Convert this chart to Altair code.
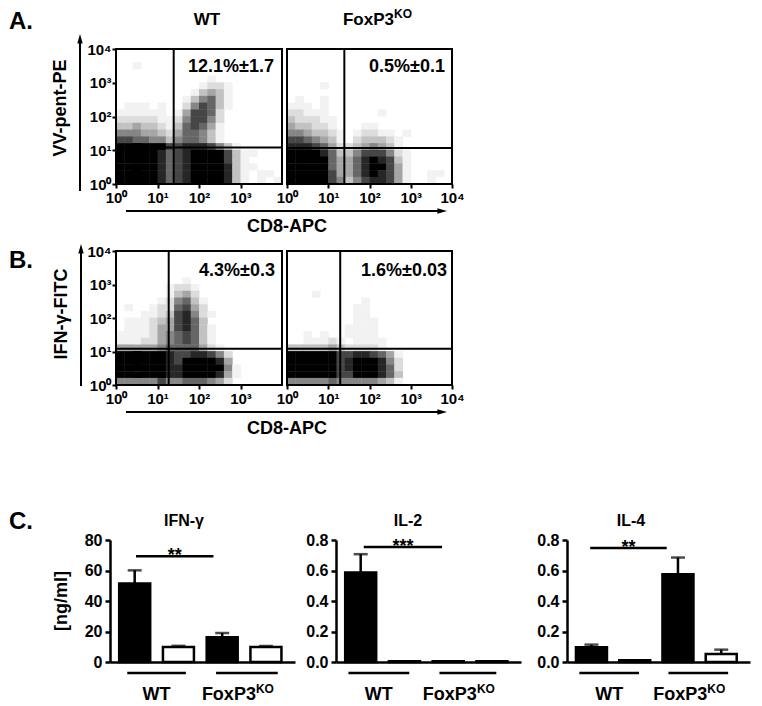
import altair as alt
import pandas as pd

W, H = 746, 698
FONT = "Liberation Sans, Arial, Helvetica, sans-serif"

# ---------------- Flow-cytometry dot plots ----------------
# Density of dots per 0.2-decade cell (rows: top -> bottom, cols: left -> right), 0 = empty .. 9 = solid
A_WT = [
    "00000000000000000000",
    "00000000000000000000",
    "00100000000000000000",
    "00000000000000000000",
    "00000000000100000000",
    "00000000001221000000",
    "00000000013431000000",
    "00000000135631000000",
    "01110100257631000000",
    "11111101477620000000",
    "22222112577520000000",
    "33433213676410000000",
    "55544324665310000000",
    "77665535665310000000",
    "99999977888753100000",
    "99999867899997311000",
    "99999867899997310000",
    "99999867899998311000",
    "99999867899998310110",
    "99999867899998310101",
]
A_KO = [
    "00000000000000000000",
    "00000000000000000000",
    "00000000000000000000",
    "00000000000000000000",
    "00000000000000000000",
    "00001000000000000000",
    "00000000000000000000",
    "01001000000000000000",
    "11101000000000000000",
    "22111000000100000000",
    "32221100000000000000",
    "43322100011000000000",
    "55433210122110100000",
    "77654310233321000000",
    "88876422345431000000",
    "99998633577752100000",
    "99999644689873100000",
    "99999644689974100000",
    "99999744689874100110",
    "99999753578874100100",
]
B_WT = [
    "00000000000000000000",
    "00000000000000000000",
    "00000000000000000000",
    "00000000000000000000",
    "00000000100000000000",
    "00000012210000000000",
    "00000013420000000000",
    "00000125631000000000",
    "01001226742000000000",
    "00011237852100000000",
    "01112347863000000000",
    "01112447863100000000",
    "11112456763100000000",
    "11122456763100000000",
    "44444566664210000000",
    "99999987788752000000",
    "99999987999984000000",
    "99999988999995100000",
    "99999988999984100000",
    "55555755666542000000",
]
B_KO = [
    "00000000000000000000",
    "00000000000000000000",
    "00000000000000000000",
    "00000000000000000000",
    "00000000000000000000",
    "00000000000000000000",
    "00010000000000000000",
    "00000000010000000000",
    "00000000110000000000",
    "00000000110000000000",
    "00000000111000000000",
    "00000001111000000000",
    "00101001111000000000",
    "00111210111100000000",
    "33333432222100000000",
    "99999977887641000000",
    "99999978999852000000",
    "99999978999862000000",
    "99999977999863000000",
    "55555655555431000000",
]
CELL = 0.2
DECADES = [0, 1, 2, 3, 4]
DEC_LABELS = ["10⁰", "10¹", "10²", "10³", "10⁴"]
PCT = {"A_WT": "12.1%±1.7", "A_KO": "0.5%±0.1", "B_WT": "4.3%±0.3", "B_KO": "1.6%±0.03"}
GATE_U = {"A_WT": 1.39, "A_KO": 1.39, "B_WT": 1.27, "B_KO": 1.29}   # log10 CD8 gate
GATE_V = {"A_WT": 1.08, "A_KO": 1.07, "B_WT": 1.08, "B_KO": 1.08}   # log10 y gate

# ---------------- Cytokine bars ----------------
BAR_GROUP = ["WT", "WT", "FoxP3KO", "FoxP3KO"]
BAR_KIND = ["stim", "ctrl", "stim", "ctrl"]
IFN_MEAN = [51.5, 9.8, 16.3, 9.8]
IFN_ERR = [8.6, 0.8, 2.7, 0.7]
IL2_MEAN = [0.587, 0.005, 0.005, 0.005]
IL2_ERR = [0.12, 0.0, 0.0, 0.0]
IL4_MEAN = [0.097, 0.012, 0.575, 0.053]
IL4_ERR = [0.017, 0.0, 0.11, 0.028]

LBL = "[" + ",".join("'%s'" % s for s in DEC_LABELS) + "][datum.value]"
AX = dict(labelFont=FONT, labelFontWeight="bold", labelColor="black",
          tickColor="black", grid=False, title=None)


def cells(rows):
    recs = []
    n = len(rows)
    ov = CELL * 0.06  # tiny overlap to hide anti-aliasing seams
    for i, row in enumerate(rows):
        r = n - 1 - i
        for c, ch in enumerate(row):
            if ch != "0":
                recs.append({"u0": c * CELL, "u1": (c + 1) * CELL + ov,
                             "v0": r * CELL, "v1": (r + 1) * CELL + ov, "d": int(ch)})
    return pd.DataFrame(recs)


def text_layer(s, x, y, size, align="center", baseline="alphabetic", angle=0, dx=0, dy=0):
    return alt.Chart(pd.DataFrame({"t": [s]})).mark_text(
        font=FONT, fontSize=size, fontWeight="bold", color="black", align=align,
        baseline=baseline, angle=angle, dx=dx, dy=dy
    ).encode(x=alt.value(x), y=alt.value(y), text="t:N")


def flow_panel(key, rows, xr, yr, show_y, xvals, px, py):
    xs = alt.Scale(domain=[0, 4], range=xr, nice=False, zero=False)
    ys = alt.Scale(domain=[0, 4], range=yr, nice=False, zero=False)
    xax = alt.Axis(orient="bottom", offset=yr[0] - H, values=xvals, labelExpr=LBL,
                   domain=False, tickSize=4, tickWidth=2, labelPadding=2,
                   labelFontSize=15, labelFlush=False, labelOverlap=False, **AX)
    if show_y:
        yax = alt.Axis(orient="left", offset=-xr[0], values=DECADES, labelExpr=LBL,
                       domain=False, tickSize=4, tickWidth=2, labelPadding=1,
                       labelFontSize=15, labelOverlap=False, **AX)
    else:
        yax = alt.Axis(orient="left", offset=-xr[0], domain=False, ticks=False,
                       labels=False, grid=False, title=None)
    dens = alt.Chart(cells(rows)).mark_rect(strokeWidth=0).encode(
        x=alt.X("u0:Q", scale=xs, axis=xax), x2="u1",
        y=alt.Y("v0:Q", scale=ys, axis=yax), y2="v1",
        color=alt.Color("d:Q", scale=alt.Scale(type="pow", exponent=1.4, domain=[0, 9],
                                               range=["#ffffff", "#000000"]), legend=None),
    )
    box = alt.Chart(pd.DataFrame({"x0": [0], "x1": [4], "y0": [0], "y1": [4]})).mark_rect(
        fillOpacity=0, stroke="black", strokeWidth=2
    ).encode(x=alt.X("x0:Q", scale=xs, axis=xax), x2="x1",
             y=alt.Y("y0:Q", scale=ys, axis=yax), y2="y1")
    gu, gv = GATE_U[key], GATE_V[key]
    gates = alt.Chart(pd.DataFrame({"x0": [gu, 0], "x1": [gu, 4], "y0": [0, gv], "y1": [4, gv]})).mark_rule(
        color="black", strokeWidth=2
    ).encode(x=alt.X("x0:Q", scale=xs, axis=xax), x2="x1",
             y=alt.Y("y0:Q", scale=ys, axis=yax), y2="y1")
    lab = text_layer(PCT[key], px, py, 18, align="right")
    return alt.layer(dens, box, gates, lab)


BAR_Y = [653, 531]
GL_Y = 691


def bar_panel(mean, err, xr, ymax, yvals, fmt, sig, stars, under, title, tx):
    xs = alt.Scale(domain=[0.05, 4.05], range=xr, nice=False, zero=False)
    ys = alt.Scale(domain=[0, ymax], range=BAR_Y, nice=False, zero=False)
    xax = alt.Axis(orient="bottom", offset=BAR_Y[0] - H, domain=True, domainColor="black",
                   domainWidth=2.5, ticks=False, labels=False, grid=False, title=None)
    yax = alt.Axis(orient="left", offset=-xr[0], values=yvals, format=fmt, domain=True,
                   domainColor="black", domainWidth=2.5, tickSize=5, tickWidth=2.5,
                   labelPadding=3, labelFontSize=16, **AX)
    X = lambda f: alt.X(f, scale=xs, axis=xax)
    Y = lambda f: alt.Y(f, scale=ys, axis=yax)
    df = pd.DataFrame({"slot": [i + 0.5 for i in range(len(mean))], "mean": mean,
                       "top": [m + e for m, e in zip(mean, err)], "err": err,
                       "kind": BAR_KIND, "grp": BAR_GROUP})
    bars = alt.Chart(df).mark_bar(width=31, stroke="black", strokeWidth=2.5).encode(
        x=X("slot:Q"), y=Y("mean:Q"),
        fill=alt.Fill("kind:N", scale=alt.Scale(domain=["stim", "ctrl"], range=["black", "white"]), legend=None),
    )
    dfe = df[df["err"] > 0]
    ebar = alt.Chart(dfe).mark_rule(color="black", strokeWidth=2.5).encode(
        x=X("slot:Q"), y=Y("mean:Q"), y2="top")
    ecap = alt.Chart(dfe).mark_tick(color="black", orient="horizontal", size=14, thickness=2.5).encode(
        x=X("slot:Q"), y=Y("top:Q"))
    sdf = pd.DataFrame({"x0": [sig[0]], "x1": [sig[1]], "y": [sig[2]],
                        "xm": [(sig[0] + sig[1]) / 2], "s": [stars]})
    sline = alt.Chart(sdf).mark_rule(color="black", strokeWidth=2.5).encode(
        x=X("x0:Q"), x2="x1", y=Y("y:Q"))
    stxt = alt.Chart(sdf).mark_text(font=FONT, fontSize=18, fontWeight="bold", color="black",
                                     baseline="alphabetic", dy=5).encode(
        x=X("xm:Q"), y=Y("y:Q"), text="s:N")
    udf = pd.DataFrame({"x0": [under[0][0], under[1][0]], "x1": [under[0][1], under[1][1]],
                        "xm": [(under[0][0] + under[0][1]) / 2, (under[1][0] + under[1][1]) / 2],
                        "g": ["WT", "FoxP3"]})
    uline = alt.Chart(udf).mark_rule(color="black", strokeWidth=2.5).encode(
        x=X("x0:Q"), x2="x1", y=alt.value(664))
    wt = alt.Chart(udf[udf["g"] == "WT"]).mark_text(
        font=FONT, fontSize=18, fontWeight="bold", color="black", baseline="alphabetic").encode(
        x=X("xm:Q"), y=alt.value(GL_Y), text="g:N")
    ko = alt.Chart(udf[udf["g"] == "FoxP3"]).mark_text(
        font=FONT, fontSize=18, fontWeight="bold", color="black", baseline="alphabetic",
        align="right", dx=9).encode(
        x=X("xm:Q"), y=alt.value(GL_Y), text="g:N")
    kos = alt.Chart(udf[udf["g"] == "FoxP3"]).mark_text(
        font=FONT, fontSize=12, fontWeight="bold", color="black", baseline="alphabetic",
        align="left", dx=9, dy=-7).encode(
        x=X("xm:Q"), y=alt.value(GL_Y), text=alt.value("KO"))
    ttl = text_layer(title, tx, 517, 16)
    return alt.layer(bars, ebar, ecap, sline, stxt, uline, wt, ko, kos, ttl)


XR_WT, XR_KO = [108, 274], [279, 444]
YR_A, YR_B = [175, 40], [376, 242]

p_awt = flow_panel("A_WT", A_WT, XR_WT, YR_A, True, [0, 1, 2, 3], 266, 63)
p_ako = flow_panel("A_KO", A_KO, XR_KO, YR_A, False, DECADES, 437, 63)
p_bwt = flow_panel("B_WT", B_WT, XR_WT, YR_B, True, [0, 1, 2, 3], 267, 267)
p_bko = flow_panel("B_KO", B_KO, XR_KO, YR_B, False, DECADES, 439, 267)

b_ifn = bar_panel(IFN_MEAN, IFN_ERR, [102, 287], 80, [0, 20, 40, 60, 80], "d",
                  (0.53, 2.30, 69.4), "**", [(0.33, 1.67), (2.36, 3.77)], "IFN-γ", 176)
b_il2 = bar_panel(IL2_MEAN, IL2_ERR, [328, 513], 0.8, [0, 0.2, 0.4, 0.6, 0.8], ".1f",
                  (0.57, 2.36, 0.754), "***", [(0.22, 1.61), (2.30, 3.60)], "IL-2", 400)
b_il4 = bar_panel(IL4_MEAN, IL4_ERR, [559, 742], 0.8, [0, 0.2, 0.4, 0.6, 0.8], ".1f",
                  (0.47, 2.24, 0.747), "**", [(0.22, 1.60), (2.28, 3.66)], "IL-4", 623)

# ---------------- decorations: arrows, titles, panel letters ----------------
UP = "M0,-1L0.45,0.6L-0.45,0.6Z"
RIGHT = "M1,0L-0.6,0.45L-0.6,-0.45Z"


def vline(x, y1, y2):
    return alt.Chart(pd.DataFrame({"k": [0]})).mark_rule(color="black", strokeWidth=2).encode(
        x=alt.value(x), y=alt.value(y1), y2=alt.value(y2))


def hline(y, x1, x2):
    return alt.Chart(pd.DataFrame({"k": [0]})).mark_rule(color="black", strokeWidth=2).encode(
        y=alt.value(y), x=alt.value(x1), x2=alt.value(x2))


def head(x, y, shape):
    return alt.Chart(pd.DataFrame({"k": [0]})).mark_point(
        shape=shape, filled=True, color="black", opacity=1, size=144, strokeWidth=0
    ).encode(x=alt.value(x), y=alt.value(y))


deco = alt.layer(
    vline(72, 182, 31), head(72, 31, UP),
    vline(73, 377, 241), head(73, 241, UP),
    hline(202, 118, 433), head(433, 202, RIGHT),
    hline(403, 118, 433), head(433, 403, RIGHT),
    text_layer("VV-pent-PE", 53, 99, 18, baseline="middle", angle=270),
    text_layer("IFN-γ-FITC", 54, 305, 18, baseline="middle", angle=270),
    text_layer("CD8-APC", 279, 218, 18, baseline="middle"),
    text_layer("CD8-APC", 279, 420, 18, baseline="middle"),
    text_layer("[ng/ml]", 54, 592, 18, baseline="middle", angle=270),
    text_layer("A.", 1, 20, 24, align="left"),
    text_layer("B.", 1, 259, 24, align="left"),
    text_layer("C.", 1, 520, 24, align="left"),
    text_layer("WT", 199, 16, 17),
    text_layer("FoxP3", 386, 16, 17, align="right"),
    text_layer("KO", 386, 9, 12, align="left"),
)

chart = alt.layer(
    p_awt, p_ako, p_bwt, p_bko, b_ifn, b_il2, b_il4, deco
).resolve_scale(
    x="independent", y="independent", fill="independent", color="independent"
).properties(
    width=W, height=H, padding=0
).configure_view(strokeWidth=0)

chart.save("out.html", embed_options={"renderer": "svg", "actions": False})
